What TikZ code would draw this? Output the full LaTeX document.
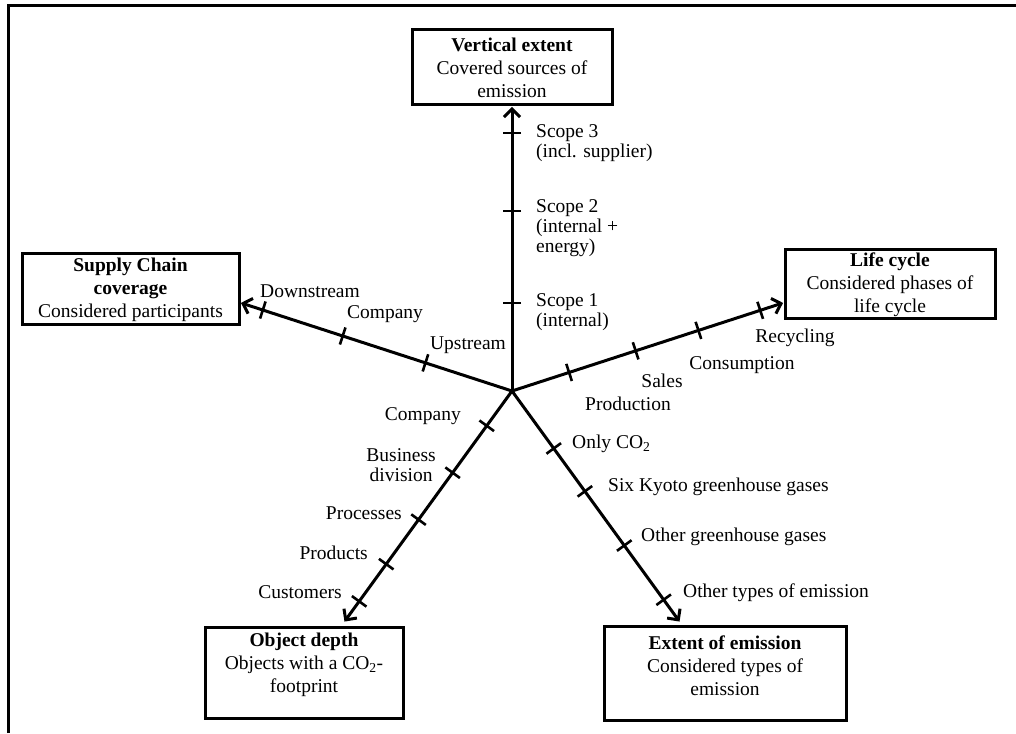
\documentclass[tikz,border=0pt]{standalone}
\usepackage{fontspec}
\setmainfont{Liberation Serif}
\usetikzlibrary{arrows.meta,calc}
\newcommand\lblfont{\fontsize{19.5}{20}\selectfont}
\newcommand\boxfont{\fontsize{19.5}{23}\selectfont}
\begin{document}
\begin{tikzpicture}[x=1pt,y=1pt,
  axis/.style={line width=3pt,-{Straight Barb[length=8pt,width=16pt]}},
  frame/.style={line width=3pt},
  dimbox/.style={draw,line width=3pt,inner sep=0pt,font=\boxfont,align=center},
  boxtext/.style={inner sep=0pt,font=\boxfont,align=center},
  lbl/.style={inner sep=0pt,font=\lblfont},
  tickmark/.pic={\draw[line width=2.6pt] (0,-9) -- (0,9);}]
\useasboundingbox (0,0) rectangle (1016,733);

% partial outer frame
\coordinate (fa) at (8.5,0);
\coordinate (fb) at (8.5,727.5);
\coordinate (fc) at (1016,727.5);
\draw[frame] (fa) -- (fb) -- (fc);

% hub
\coordinate (c) at (512,342);

% dimension boxes
\node[dimbox,minimum width=200,minimum height=75] (ve) at (512,665.5)
  {\textbf{Vertical extent}\\Covered sources of\\emission};
\node[dimbox,minimum width=217,minimum height=71] (sc) at (130.5,443.5)
  {\textbf{Supply Chain}\\\textbf{coverage}\\Considered participants};
\node[dimbox,minimum width=210,minimum height=69] (lc) at (890,448.5)
  {\textbf{Life cycle}\\Considered phases of\\life cycle};
\node[dimbox,minimum width=198,minimum height=90] (od) at (304,60) {};
\node[boxtext] (odt) at (304,68)
  {\textbf{Object depth}\\Objects with a CO\textsubscript{2}-\\footprint};
\node[dimbox,minimum width=242,minimum height=93] (ee) at (725,59.5) {};
\node[boxtext] (eet) at (725,67)
  {\textbf{Extent of emission}\\Considered types of\\emission};

% arrow tips on the box borders
\coordinate (tve) at ($(c)+(90:284)$);
\coordinate (tsc) at ($(c)+(162:285)$);
\coordinate (tlc) at ($(c)+(18:285)$);
\coordinate (tod) at ($(c)+(234:285)$);
\coordinate (tee) at ($(c)+(306:285)$);

\draw[axis] (c) -- (tve);
\draw[axis] (c) -- (tsc);
\draw[axis] (c) -- (tlc);
\draw[axis] (c) -- (tod);
\draw[axis] (c) -- (tee);

% scale marks
\foreach \d in {88,180,258} \pic[rotate=90] at ($(c)+(90:\d)$) {tickmark};
\foreach \d in {91,178,262} \pic[rotate=162] at ($(c)+(162:\d)$) {tickmark};
\foreach \d in {60,130,196,261} \pic[rotate=18] at ($(c)+(18:\d)$) {tickmark};
\foreach \d in {43,101,159,214,260} \pic[rotate=234] at ($(c)+(234:\d)$) {tickmark};
\foreach \d in {71,124,191,258} \pic[rotate=306] at ($(c)+(306:\d)$) {tickmark};

% vertical extent labels
\node[lbl,anchor=west,align=left] (s3) at (536,590) {Scope 3\\(incl. supplier)};
\node[lbl,anchor=west,align=left] (s2) at (536,505) {Scope 2\\(internal +\\energy)};
\node[lbl,anchor=west,align=left] (s1) at (536,420.5) {Scope 1\\(internal)};

% supply chain labels
\node[lbl] (ds) at (310,442) {Downstream};
\node[lbl] (cu) at (385,419) {Company};
\node[lbl] (us) at (468,388) {Upstream};

% life cycle labels
\node[lbl] (pr) at (628,329) {Production};
\node[lbl] (sa) at (662,352) {Sales};
\node[lbl] (co) at (742,368) {Consumption};
\node[lbl] (re) at (795,395) {Recycling};

% object depth labels
\node[lbl,anchor=east] (cl) at (461,317) {Company};
\node[lbl,anchor=east,align=center] (bd) at (436,268) {Business\\division};
\node[lbl,anchor=east] (ps) at (402,220) {Processes};
\node[lbl,anchor=east] (pd) at (368,180) {Products};
\node[lbl,anchor=east] (cs) at (342,141) {Customers};

% extent of emission labels
\node[lbl,anchor=west] (oc) at (572,289) {Only CO\textsubscript{2}};
\node[lbl,anchor=west] (sk) at (608,246) {Six Kyoto greenhouse gases};
\node[lbl,anchor=west] (og) at (641,196) {Other greenhouse gases};
\node[lbl,anchor=west] (ot) at (683,140) {Other types of emission};
\end{tikzpicture}
\end{document}
